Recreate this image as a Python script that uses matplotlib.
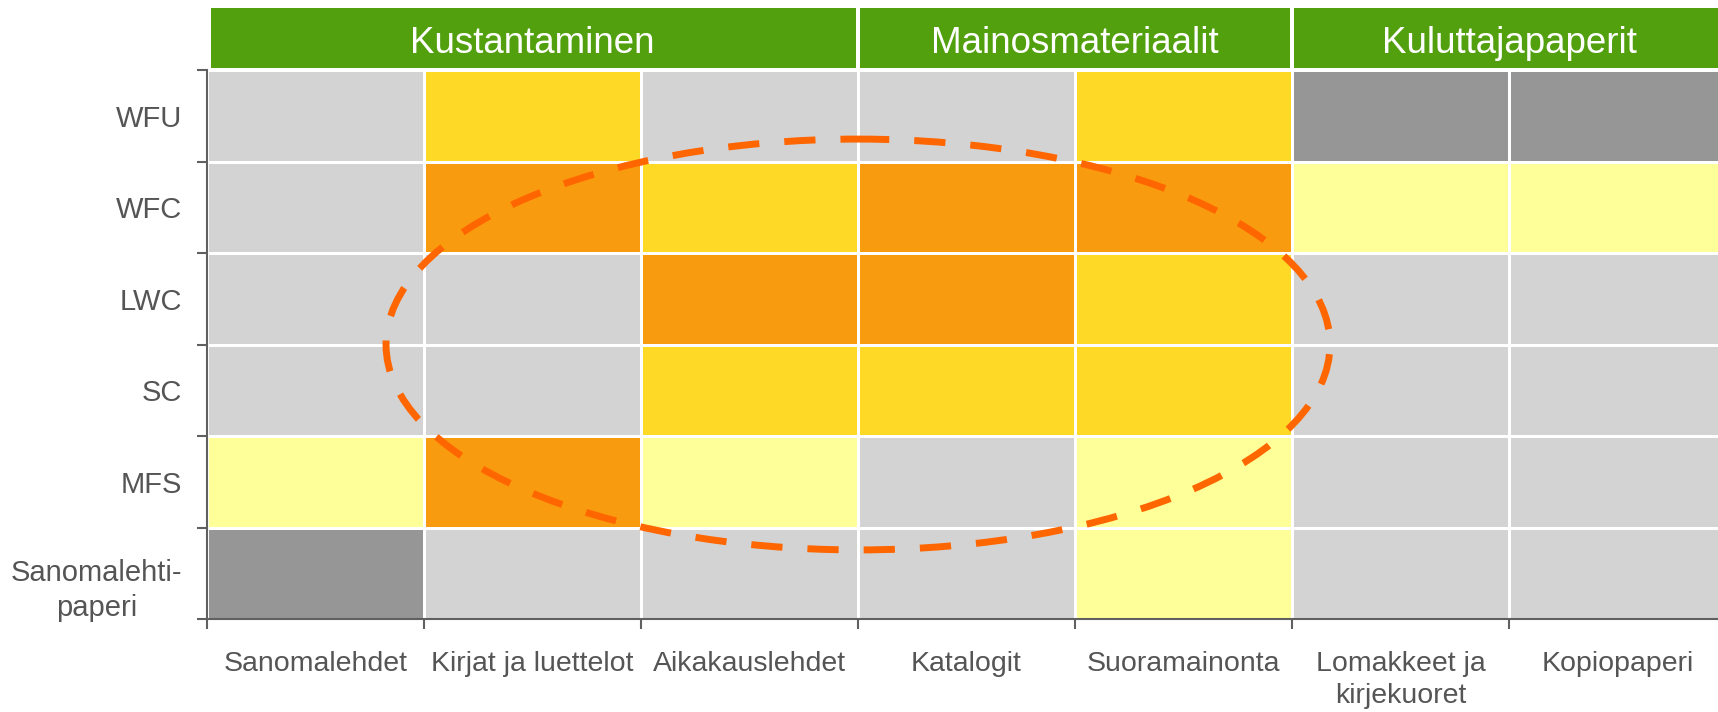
import matplotlib
matplotlib.use("Agg")
import matplotlib.pyplot as plt
import numpy as np
from matplotlib.colors import ListedColormap, BoundaryNorm
from matplotlib.patches import Rectangle, Ellipse
from matplotlib.transforms import ScaledTranslation

plt.rcParams['font.family'] = ['Liberation Sans', 'DejaVu Sans']

# ---- data ----
columns = ["Sanomalehdet", "Kirjat ja luettelot", "Aikakauslehdet", "Katalogit",
           "Suoramainonta", "Lomakkeet ja\nkirjekuoret", "Kopiopaperi"]
rows = ["WFU", "WFC", "LWC", "SC", "MFS", "Sanomalehti-\npaperi"]
groups = ["Kustantaminen", "Mainosmateriaalit", "Kuluttajapaperit"]
group_spans = [3, 2, 2]  # number of columns per group

# suitability level: -1 = not used (dark grey), 0 = none, 1 = low, 2 = medium, 3 = high
wfu = [0, 2, 0, 0, 2, -1, -1]
wfc = [0, 3, 2, 3, 3, 1, 1]
lwc = [0, 0, 3, 3, 2, 0, 0]
sc = [0, 0, 2, 2, 2, 0, 0]
mfs = [1, 3, 1, 0, 1, 0, 0]
sanomalehtipaperi = [-1, 0, 0, 0, 1, 0, 0]
levels = [wfu, wfc, lwc, sc, mfs, sanomalehtipaperi]

# ---- style ----
cmap = ListedColormap(['#969696', '#D3D3D3', '#FFFF99', '#FEDA26', '#F99B0E'])
norm = BoundaryNorm([-1.5, -0.5, 0.5, 1.5, 2.5, 3.5], cmap.N)
green = '#52A00E'
txt = '#555555'
spine_c = '#606060'

W, H = 1718, 712
fig = plt.figure(figsize=(W / 100, H / 100), dpi=100)
ax = fig.add_axes([207 / W, (H - 619) / H, 1519 / W, 549 / H])

Z = np.array(levels)
ax.pcolormesh(np.arange(len(columns) + 1), np.arange(len(rows) + 1), Z,
              cmap=cmap, norm=norm, edgecolors='white', linewidth=2)
ax.set_xlim(0, len(columns))
ax.set_ylim(len(rows), 0)

# spines
for s in ['top', 'right']:
    ax.spines[s].set_visible(False)
for s in ['left', 'bottom']:
    ax.spines[s].set_color(spine_c)
    ax.spines[s].set_linewidth(1.5)

ax.set_xticks(np.arange(len(columns) + 1))
ax.set_yticks(np.arange(len(rows) + 1))
ax.set_xticklabels([])
ax.set_yticklabels([])
ax.tick_params(axis='both', which='major', direction='out', length=7, width=1.5, color=spine_c)
ax.set_xticks(np.arange(len(columns)) + 0.5, minor=True)
ax.set_yticks(np.arange(len(rows)) + 0.5, minor=True)
ax.set_xticklabels(columns, minor=True, fontsize=20.5, color=txt, linespacing=1.3, va='top')
ylabels = ax.set_yticklabels(rows, minor=True, fontsize=21, color=txt, linespacing=1.3,
                             multialignment='center')
ax.tick_params(axis='x', which='minor', length=0, pad=23)
ax.tick_params(axis='y', which='minor', length=0, pad=18)
# two-line row label sits slightly low in its row
ylabels[-1].set_transform(ylabels[-1].get_transform() +
                          ScaledTranslation(0, -8 / 72, fig.dpi_scale_trans))

# header bars
start = 0
for g, span in zip(groups, group_spans):
    x0 = start + (0.02 if start == 0 else 0.01)
    x1 = start + span - 0.01
    ax.add_patch(Rectangle((x0, -0.678), x1 - x0, 0.656, facecolor=green,
                           edgecolor='none', clip_on=False, transform=ax.transData))
    ax.text(start + span / 2, -0.33, g, ha='center', va='center_baseline', color='white',
            fontsize=26.5, clip_on=False)
    start += span

# highlight ellipse
ax.add_patch(Ellipse((3, 3), 4.35, 4.49, fill=False, edgecolor='#FF6600', linewidth=5,
                     linestyle=(0, (4.5, 3.6)), clip_on=False, zorder=5))

fig.savefig('out.png', dpi=100)
